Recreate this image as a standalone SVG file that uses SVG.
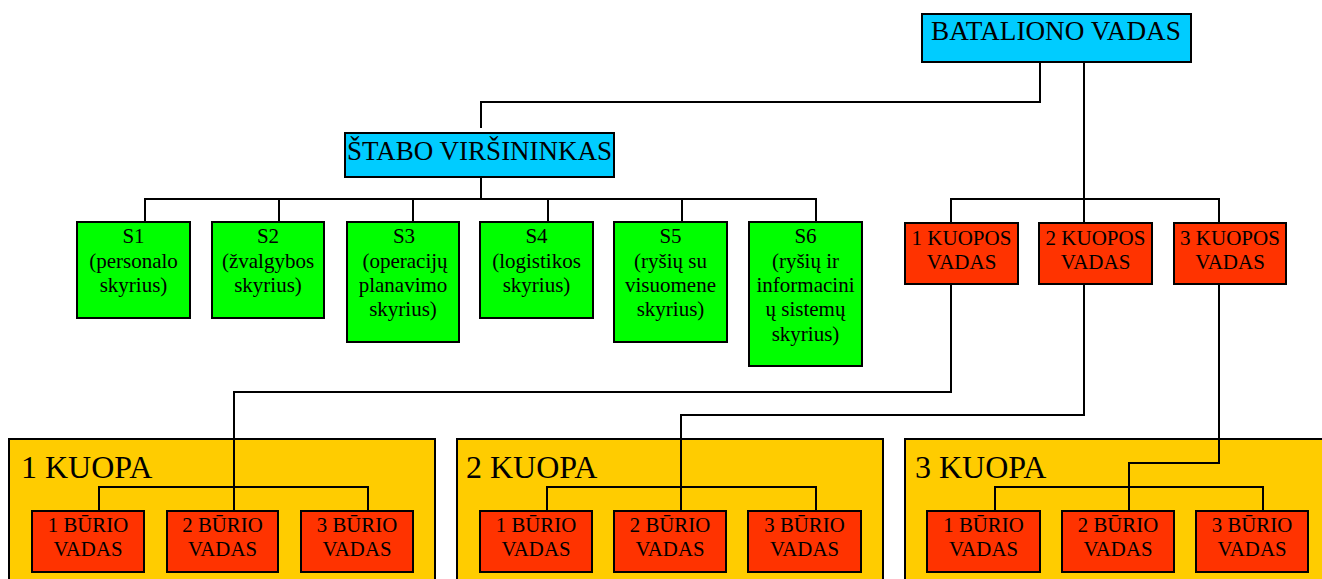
<svg xmlns="http://www.w3.org/2000/svg" width="1322" height="579" viewBox="0 0 1322 579">
  <style>
    .box { stroke: #000; stroke-width: 2; }
    .cmd { fill: #00CCFF; }
    .staff { fill: #00FF00; }
    .lead { fill: #FF3300; }
    .unit { fill: #FFCC00; }
    text { font-family: "Liberation Serif", "Times New Roman", serif; fill: #000; }
    .t27 { font-size: 27.2px; }
    .t21 { font-size: 21px; text-anchor: middle; }
    .t20 { font-size: 20.8px; text-anchor: middle; }
    .t32 { font-size: 32px; }
    .wire { fill: none; stroke: #000; stroke-width: 2; }
  </style>
  <rect width="1322" height="579" fill="#fff"/>

  <!-- company containers -->
  <g id="kuopa1">
    <rect class="box unit" x="9" y="439" width="426" height="150"/>
    <text class="t32" x="21" y="478">1 KUOPA</text>
  </g>
  <g id="kuopa2">
    <rect class="box unit" x="457" y="439" width="426" height="150"/>
    <text class="t32" x="466" y="478">2 KUOPA</text>
  </g>
  <g id="kuopa3">
    <rect class="box unit" x="905" y="439" width="430" height="150"/>
    <text class="t32" x="915" y="478">3 KUOPA</text>
  </g>

  <!-- connectors -->
  <g id="connectors">
    <polyline class="wire" points="1040,62 1040,102 481,102 481,128"/>
    <line class="wire" x1="1084" y1="62" x2="1084" y2="284"/>
    <line class="wire" x1="481" y1="177" x2="481" y2="199"/>
    <polyline class="wire" points="145,222 145,199 816,199 816,222"/>
    <line class="wire" x1="279" y1="199" x2="279" y2="222"/>
    <line class="wire" x1="413" y1="199" x2="413" y2="222"/>
    <line class="wire" x1="548" y1="199" x2="548" y2="222"/>
    <line class="wire" x1="682" y1="199" x2="682" y2="222"/>
    <polyline class="wire" points="951,223 951,199 1219,199 1219,223"/>
    <!-- company commanders down to their platoons -->
    <polyline class="wire" points="951,284 951,392 234,392 234,511"/>
    <polyline class="wire" points="1084,284 1084,415 681,415 681,511"/>
    <polyline class="wire" points="1219,284 1219,463 1129,463 1129,511"/>
    <!-- platoon branches -->
    <polyline class="wire" points="99,511 99,487 368,487 368,511"/>
    <polyline class="wire" points="547,511 547,487 816,487 816,511"/>
    <polyline class="wire" points="995,511 995,487 1263,487 1263,511"/>
  </g>

  <g id="batalion">
    <rect class="box cmd" x="922" y="14" width="269" height="48"/>
    <text class="t27" x="931" y="40">BATALIONO VADAS</text>
  </g>
  <g id="stabas">
    <rect class="box cmd" x="345" y="133" width="269" height="44"/>
    <text class="t27" x="347" y="160" style="font-size:27px">ŠTABO VIRŠININKAS</text>
  </g>

  <g id="s1">
    <rect class="box staff" x="77" y="222" width="113" height="96"/>
    <text class="t21" x="133.5" y="243">S1</text>
    <text class="t21" x="133.5" y="268">(personalo</text>
    <text class="t21" x="133.5" y="292">skyrius)</text>
  </g>
  <g id="s2">
    <rect class="box staff" x="212" y="222" width="112" height="96"/>
    <text class="t21" x="268" y="243">S2</text>
    <text class="t21" x="268" y="268">(žvalgybos</text>
    <text class="t21" x="268" y="292">skyrius)</text>
  </g>
  <g id="s3">
    <rect class="box staff" x="347" y="222" width="112" height="120"/>
    <text class="t21" x="404" y="243">S3</text>
    <text class="t21" x="405" y="268">(operacijų</text>
    <text class="t21" x="403" y="292">planavimo</text>
    <text class="t21" x="403" y="316">skyrius)</text>
  </g>
  <g id="s4">
    <rect class="box staff" x="480" y="222" width="113" height="96"/>
    <text class="t21" x="536.5" y="243">S4</text>
    <text class="t21" x="536.5" y="268">(logistikos</text>
    <text class="t21" x="536.5" y="292">skyrius)</text>
  </g>
  <g id="s5">
    <rect class="box staff" x="614" y="222" width="113" height="120"/>
    <text class="t21" x="670.5" y="243">S5</text>
    <text class="t21" x="670.5" y="268">(ryšių su</text>
    <text class="t21" x="670.5" y="292">visuomene</text>
    <text class="t21" x="670.5" y="316">skyrius)</text>
  </g>
  <g id="s6">
    <rect class="box staff" x="749" y="222" width="113" height="144"/>
    <text class="t21" x="805.5" y="243">S6</text>
    <text class="t21" x="805.5" y="268">(ryšių ir</text>
    <text class="t21" x="805.5" y="292">informacini</text>
    <text class="t21" x="805.5" y="316">ų sistemų</text>
    <text class="t21" x="805.5" y="341">skyrius)</text>
  </g>

  <g id="kuopos1">
    <rect class="box lead" x="905" y="223" width="113" height="61"/>
    <text class="t21" x="961.5" y="245">1 KUOPOS</text>
    <text class="t21" x="961.5" y="269">VADAS</text>
  </g>
  <g id="kuopos2">
    <rect class="box lead" x="1039" y="223" width="113" height="61"/>
    <text class="t21" x="1095.5" y="245">2 KUOPOS</text>
    <text class="t21" x="1095.5" y="269">VADAS</text>
  </g>
  <g id="kuopos3">
    <rect class="box lead" x="1174" y="223" width="112" height="61"/>
    <text class="t21" x="1230" y="245">3 KUOPOS</text>
    <text class="t21" x="1230" y="269">VADAS</text>
  </g>

  <!-- platoon commanders, company 1 -->
  <g id="k1b1">
    <rect class="box lead" x="32" y="511" width="112" height="61"/>
    <text class="t20" x="88" y="532">1 BŪRIO</text>
    <text class="t20" x="88" y="556">VADAS</text>
  </g>
  <g id="k1b2">
    <rect class="box lead" x="167" y="511" width="111" height="61"/>
    <text class="t20" x="222.5" y="532">2 BŪRIO</text>
    <text class="t20" x="222.5" y="556">VADAS</text>
  </g>
  <g id="k1b3">
    <rect class="box lead" x="301" y="511" width="112" height="61"/>
    <text class="t20" x="357" y="532">3 BŪRIO</text>
    <text class="t20" x="357" y="556">VADAS</text>
  </g>

  <!-- platoon commanders, company 2 -->
  <g id="k2b1">
    <rect class="box lead" x="480" y="511" width="112" height="61"/>
    <text class="t20" x="536" y="532">1 BŪRIO</text>
    <text class="t20" x="536" y="556">VADAS</text>
  </g>
  <g id="k2b2">
    <rect class="box lead" x="614" y="511" width="112" height="61"/>
    <text class="t20" x="670" y="532">2 BŪRIO</text>
    <text class="t20" x="670" y="556">VADAS</text>
  </g>
  <g id="k2b3">
    <rect class="box lead" x="748" y="511" width="113" height="61"/>
    <text class="t20" x="804.5" y="532">3 BŪRIO</text>
    <text class="t20" x="804.5" y="556">VADAS</text>
  </g>

  <!-- platoon commanders, company 3 -->
  <g id="k3b1">
    <rect class="box lead" x="927" y="511" width="113" height="61"/>
    <text class="t20" x="983.5" y="532">1 BŪRIO</text>
    <text class="t20" x="983.5" y="556">VADAS</text>
  </g>
  <g id="k3b2">
    <rect class="box lead" x="1062" y="511" width="112" height="61"/>
    <text class="t20" x="1118" y="532">2 BŪRIO</text>
    <text class="t20" x="1118" y="556">VADAS</text>
  </g>
  <g id="k3b3">
    <rect class="box lead" x="1196" y="511" width="112" height="61"/>
    <text class="t20" x="1252" y="532">3 BŪRIO</text>
    <text class="t20" x="1252" y="556">VADAS</text>
  </g>
</svg>
